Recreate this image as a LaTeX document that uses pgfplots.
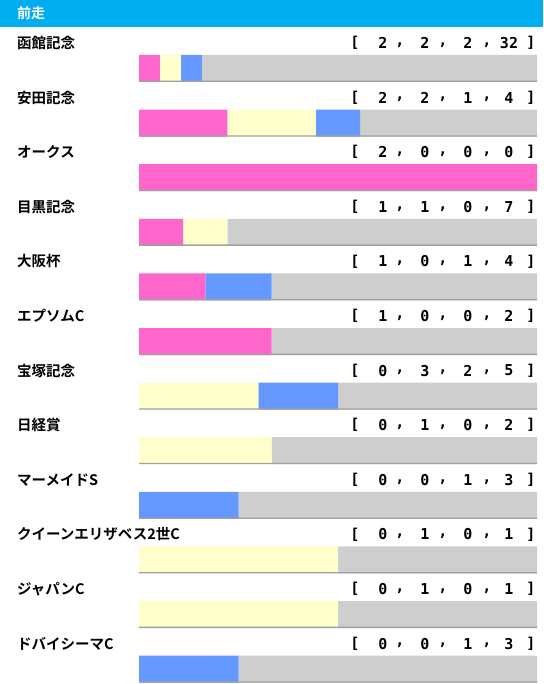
\documentclass[border=0pt]{standalone}
\usepackage{pgfplots}
\pgfplotsset{compat=1.18}
\usepackage{pgfplotstable}
\usepackage{fontspec}
\setmainfont{DejaVu Sans}
\newfontfamily\jp{Noto Sans CJK JP}[BoldFont={* Bold}]
\newfontfamily\mono{DejaVu Sans Mono}

\definecolor{headblue}{RGB}{0,174,239}
\definecolor{pinkc}{RGB}{255,102,204}
\definecolor{yellowc}{RGB}{255,255,204}
\definecolor{bluec}{RGB}{102,153,255}
\definecolor{greyc}{RGB}{206,206,206}
\definecolor{edgec}{RGB}{160,160,160}

% y = row centre, pixels from top
\pgfplotstableread{
y     first second third other total
68.5  2 2 2 32 38
123.1 2 2 1 4 9
177.7 2 0 0 0 2
232.3 1 1 0 7 9
286.9 1 0 1 4 6
341.5 1 0 0 2 3
396.1 0 3 2 5 10
450.7 0 1 0 2 3
505.3 0 0 1 3 4
559.9 0 1 0 1 2
614.5 0 1 0 1 2
669.1 0 0 1 3 4
}\rec

\pgfplotsset{rowaxis/.style={
  width=543pt, height=684pt, scale only axis,
  xmin=-34.925, xmax=101.508,
  ymin=0, ymax=684, y dir=reverse,
  hide axis, clip=false}}

\newcommand{\lab}[2]{\node[anchor=west, inner sep=0pt,
  font=\jp\bfseries\fontsize{14.5}{16}\selectfont] at (17pt,{684pt-#1}) {#2};}
\newcommand{\cnt}[5]{%
  \begin{scope}[font=\mono\bfseries\fontsize{15}{16}\selectfont, inner sep=0pt]
  \node at (355pt,{684pt-#1}) {[};
  \node at (383pt,{684pt-#1}) {#2};
  \node at (400pt,{684pt-#1-2pt}) {,};
  \node at (425pt,{684pt-#1}) {#3};
  \node at (443pt,{684pt-#1-2pt}) {,};
  \node at (468pt,{684pt-#1}) {#4};
  \node at (487pt,{684pt-#1-2pt}) {,};
  \node at (509pt,{684pt-#1}) {#5};
  \node at (531pt,{684pt-#1}) {]};
  \end{scope}}

\begin{document}
\begin{tikzpicture}
\begin{axis}[rowaxis, xbar stacked, bar width=27pt]
\addplot[fill=pinkc, draw=none] table[x expr=\thisrow{first}/\thisrow{total}*100, y=y] {\rec};
\addplot[fill=yellowc, draw=none] table[x expr=\thisrow{second}/\thisrow{total}*100, y=y] {\rec};
\addplot[fill=bluec, draw=none] table[x expr=\thisrow{third}/\thisrow{total}*100, y=y] {\rec};
\addplot[fill=greyc, draw=none] table[x expr=\thisrow{other}/\thisrow{total}*100, y=y] {\rec};
\end{axis}
% darker bottom edge of each bar
\begin{axis}[rowaxis, xbar, bar width=1.3pt, bar shift=-12.85pt]
\addplot[fill=edgec, draw=none] table[x expr=(\thisrow{first}+\thisrow{second}+\thisrow{third}+\thisrow{other})/\thisrow{total}*100, y=y] {\rec};
\end{axis}

\fill[headblue] (0pt,657pt) rectangle (543pt,684pt);
\node[anchor=west, inner sep=0pt, text=white,
  font=\jp\bfseries\fontsize{14}{16}\selectfont] at (17pt,670.5pt) {前走};

\lab{43}{函館記念}
\lab{97.6}{安田記念}
\lab{152.2}{オークス}
\lab{206.8}{目黒記念}
\lab{261.4}{大阪杯}
\lab{316}{エプソムC}
\lab{370.6}{宝塚記念}
\lab{425.2}{日経賞}
\lab{479.8}{マーメイドS}
\lab{534.4}{クイーンエリザベス2世C}
\lab{589}{ジャパンC}
\lab{643.6}{ドバイシーマC}

\cnt{43}{2}{2}{2}{32}
\cnt{97.6}{2}{2}{1}{4}
\cnt{152.2}{2}{0}{0}{0}
\cnt{206.8}{1}{1}{0}{7}
\cnt{261.4}{1}{0}{1}{4}
\cnt{316}{1}{0}{0}{2}
\cnt{370.6}{0}{3}{2}{5}
\cnt{425.2}{0}{1}{0}{2}
\cnt{479.8}{0}{0}{1}{3}
\cnt{534.4}{0}{1}{0}{1}
\cnt{589}{0}{1}{0}{1}
\cnt{643.6}{0}{0}{1}{3}

\pgfresetboundingbox
\path (0pt,0pt) rectangle (543pt,684pt);
\end{tikzpicture}
\end{document}
